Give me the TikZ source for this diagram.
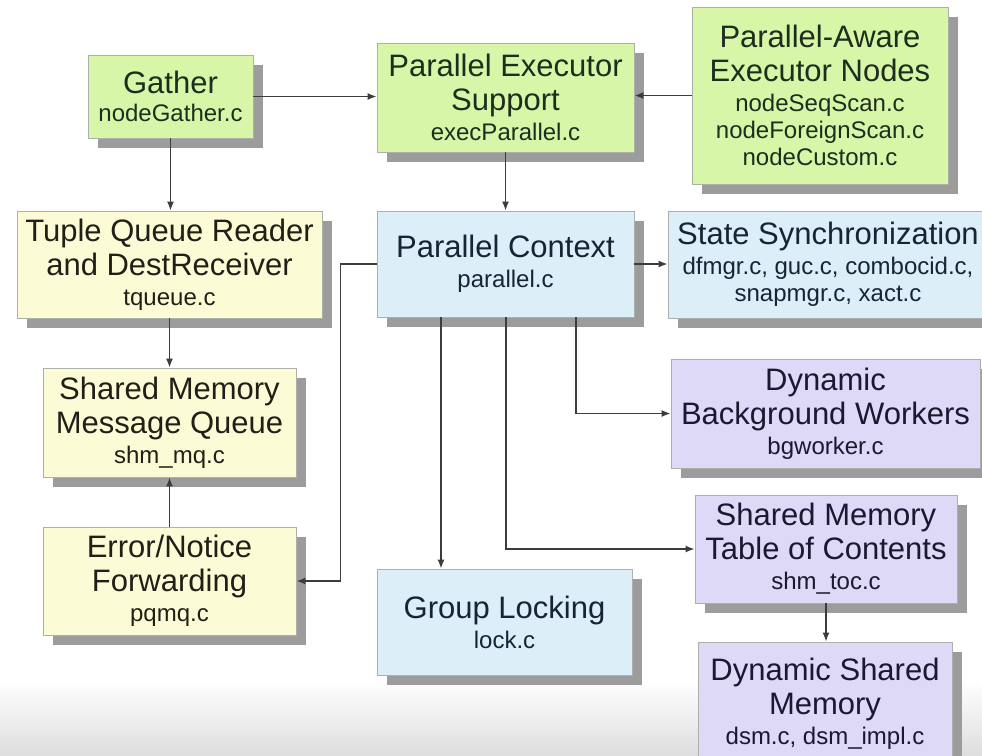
\documentclass[tikz,border=0pt]{standalone}
\usepackage{fontspec}
\setmainfont{Liberation Sans}
\usetikzlibrary{arrows.meta,shadows}

\definecolor{grnfill}{RGB}{216,246,168}
\definecolor{yelfill}{RGB}{251,251,214}
\definecolor{blufill}{RGB}{220,238,248}
\definecolor{purfill}{RGB}{221,217,246}
\definecolor{grntext}{RGB}{30,46,30}
\definecolor{yeltext}{RGB}{32,32,24}
\definecolor{blutext}{RGB}{24,36,50}
\definecolor{purtext}{RGB}{28,24,48}
\definecolor{boxedge}{RGB}{170,176,170}
\definecolor{shadowgray}{RGB}{156,156,156}
\definecolor{linecol}{RGB}{60,60,60}

\newcommand\mainf{\fontsize{31}{34}\selectfont}
\newcommand\fname{\fontsize{24}{27}\selectfont}

\tikzset{
  box/.style={draw=boxedge, line width=0.8pt, align=center, inner sep=0pt,
    font=\mainf,
    drop shadow={shadow xshift=10pt, shadow yshift=-10pt, fill=shadowgray, opacity=1}},
  grnbox/.style={box, fill=grnfill, text=grntext},
  yelbox/.style={box, fill=yelfill, text=yeltext},
  blubox/.style={box, fill=blufill, text=blutext},
  purbox/.style={box, fill=purfill, text=purtext},
  conn/.style={draw=linecol, line width=1.5pt, -{Latex[length=9pt,width=7pt]}},
}

\begin{document}
\begin{tikzpicture}[x=1pt, y=-1pt]
  \useasboundingbox (0,0) rectangle (982,755);
  \fill[white] (0,0) rectangle (982,755);
  \shade[top color=white, bottom color=black!13] (0,680) rectangle (982,755);

  % executor layer
  \node[grnbox, minimum width=165pt, minimum height=83pt] (gather) at (170.5,96.5)
    {Gather\\[-6pt]{\fname nodeGather.c}};
  \node[grnbox, minimum width=257pt, minimum height=109pt] (pes) at (505.5,97.5)
    {Parallel Executor\\Support\\[-4pt]{\fname execParallel.c}};
  \node[grnbox, minimum width=256pt, minimum height=177pt] (pae) at (820,95.5)
    {Parallel-Aware\\Executor Nodes\\[-4pt]{\fname nodeSeqScan.c}\\[-7pt]{\fname nodeForeignScan.c}\\[-7pt]{\fname nodeCustom.c}};

  % tuple transport
  \node[yelbox, minimum width=305pt, minimum height=107pt] (tqr) at (169.5,264.5)
    {Tuple Queue Reader\\and DestReceiver\\[-4pt]{\fname tqueue.c}};
  \node[yelbox, minimum width=253pt, minimum height=109pt] (smmq) at (169.5,422.5)
    {Shared Memory\\Message Queue\\[-4pt]{\fname shm\_mq.c}};
  \node[yelbox, minimum width=253pt, minimum height=108pt] (err) at (169.5,581)
    {Error/Notice\\Forwarding\\[-4pt]{\fname pqmq.c}};

  % parallel infrastructure
  \node[blubox, minimum width=257pt, minimum height=106pt] (pctx) at (505.5,264)
    {Parallel Context\\[-4pt]{\fname parallel.c}};
  \node[blubox, minimum width=320pt, minimum height=107pt] (sync) at (828,264.5)
    {State Synchronization\\[-4pt]{\fname dfmgr.c, guc.c, combocid.c,}\\[-7pt]{\fname snapmgr.c, xact.c}};
  \node[blubox, minimum width=255pt, minimum height=106pt] (lock) at (504.5,622)
    {Group Locking\\[-4pt]{\fname lock.c}};

  % shared memory and workers
  \node[purbox, minimum width=309pt, minimum height=109pt] (dbw) at (825.5,413.5)
    {Dynamic\\Background Workers\\[-4pt]{\fname bgworker.c}};
  \node[purbox, minimum width=262pt, minimum height=108pt] (toc) at (826,549)
    {Shared Memory\\Table of Contents\\[-4pt]{\fname shm\_toc.c}};
  \node[purbox, minimum width=254pt, minimum height=124pt] (dsm) at (825,704)
    {Dynamic Shared\\Memory\\[-4pt]{\fname dsm.c, dsm\_impl.c}};

  % connectors
  \draw[conn] (gather.east) -- (gather.east -| pes.west);
  \draw[conn] (gather.south) -- (gather.south |- tqr.north);
  \draw[conn] (pae.west) -- (pae.west -| pes.east);
  \draw[conn] (pes.south) -- (pctx.north);
  \draw[conn] (pctx.east) -- (pctx.east -| sync.west);
  \draw[conn] (tqr.south) -- (tqr.south |- smmq.north);
  \draw[conn] (err.north) -- (smmq.south);
  \draw[conn] (pctx.west) -- ++(-36,0) |- (err.east);
  \draw[conn] ([xshift=-64.5pt]pctx.south) -- ([xshift=-64.5pt]pctx.south |- lock.north);
  \draw[conn] ([xshift=0.5pt]pctx.south) |- (toc.west);
  \draw[conn] ([xshift=70.5pt]pctx.south) |- (dbw.west);
  \draw[conn] (toc.south) -- (toc.south |- dsm.north);
\end{tikzpicture}
\end{document}
